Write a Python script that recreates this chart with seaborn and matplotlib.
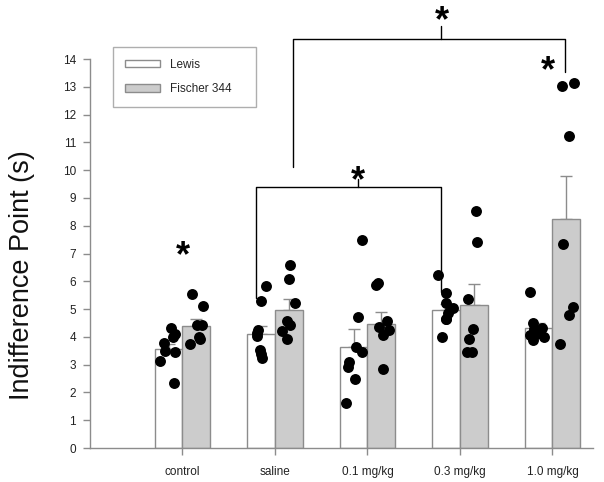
import numpy as np
import pandas as pd
import matplotlib
matplotlib.use("Agg")
import matplotlib.pyplot as plt
import seaborn as sns

# =============================
# DATA
# =============================
doses = ["control", "saline", "0.1 mg/kg", "0.3 mg/kg", "1.0 mg/kg"]
strains = ["Lewis", "Fischer 344"]

# bar heights = group means, upper error bar = SEM
lewis_mean = [3.55, 4.09, 3.64, 4.96, 4.33]
lewis_sem = [0.19, 0.31, 0.63, 0.24, 0.18]
f344_mean = [4.39, 4.96, 4.46, 5.13, 8.23]
f344_sem = [0.24, 0.39, 0.42, 0.76, 1.55]

# individual animals
lewis_control = [4.33, 4.09, 3.98, 3.77, 3.50, 3.45, 3.13, 2.35]
lewis_saline = [5.83, 5.30, 4.24, 4.15, 4.04, 3.53, 3.37, 3.23]
lewis_01 = [7.48, 4.72, 3.64, 3.44, 3.08, 2.92, 2.49, 1.62]
lewis_03 = [6.21, 5.59, 5.23, 5.05, 4.87, 4.64, 4.64, 4.00]
lewis_10 = [5.62, 4.49, 4.32, 4.28, 4.12, 4.06, 4.00, 3.90]

f344_control = [5.53, 5.11, 4.42, 4.42, 4.00, 3.91, 3.73]
f344_saline = [6.57, 6.07, 5.23, 4.58, 4.42, 4.22, 3.93]
f344_01 = [5.95, 5.86, 4.57, 4.36, 4.24, 4.06, 2.85]
f344_03 = [8.53, 7.40, 5.35, 4.28, 3.91, 3.46, 3.46]
f344_10 = [13.15, 13.02, 11.23, 7.33, 5.06, 4.78, 3.74]

lewis_points = [lewis_control, lewis_saline, lewis_01, lewis_03, lewis_10]
f344_points = [f344_control, f344_saline, f344_01, f344_03, f344_10]

# =============================
# TABLES
# =============================
df_bars = pd.DataFrame({
    "dose": doses * 2,
    "strain": [strains[0]] * 5 + [strains[1]] * 5,
    "mean": lewis_mean + f344_mean,
    "sem": lewis_sem + f344_sem,
})

rows = []
for strain, groups in zip(strains, [lewis_points, f344_points]):
    for dose, vals in zip(doses, groups):
        for v in vals:
            rows.append({"dose": dose, "strain": strain, "value": v})
df_pts = pd.DataFrame(rows)

# =============================
# PLOT
# =============================
sns.set_style("ticks")
plt.rcParams["font.family"] = ["Liberation Sans", "DejaVu Sans"]

grey = "#8c8c8c"
fig = plt.figure(figsize=(6.04, 4.82), dpi=100)
ax = fig.add_axes([0.149, 0.0705, 0.833, 0.807])

sns.barplot(data=df_bars, x="dose", y="mean", hue="strain", order=doses,
            hue_order=strains, palette={"Lewis": "white", "Fischer 344": "#cccccc"},
            width=0.6, errorbar=None, edgecolor=grey, linewidth=1, ax=ax, zorder=2)

# upper-only SEM bars
off = {"Lewis": -0.15, "Fischer 344": 0.15}
bx = df_bars["dose"].map({d: i for i, d in enumerate(doses)}) + df_bars["strain"].map(off)
ax.errorbar(bx, df_bars["mean"], yerr=[np.zeros(len(df_bars)), df_bars["sem"]],
            fmt="none", ecolor=grey, elinewidth=1, capsize=4, capthick=1, zorder=1)

# scattered individual points
rng = np.random.default_rng(7)
df_pts["x"] = (df_pts["dose"].map({d: i for i, d in enumerate(doses)})
               + df_pts["strain"].map(off)
               + rng.uniform(-0.09, 0.09, len(df_pts)))
sns.scatterplot(data=df_pts, x="x", y="value", color="black", s=62,
                edgecolor="black", linewidth=0, legend=False, ax=ax, zorder=4)

ax.set_xlim(-1.0, 4.44)
ax.set_ylim(0, 14)
ax.set_xticks(range(len(doses)))
ax.set_xticklabels(doses)
ax.set_yticks(range(0, 15))
ax.set_xlabel("")
ax.set_ylabel("Indifference Point (s)", fontsize=19.5, color="#111111")
ax.yaxis.set_label_coords(-0.11, 0.445)
ax.tick_params(axis="both", labelsize=8.5, colors=grey, labelcolor="#222222",
               direction="out", length=5, width=1)
ax.tick_params(axis="x", pad=8)
ax.tick_params(axis="y", pad=5)
for side in ["top", "right"]:
    ax.spines[side].set_visible(False)
for side in ["left", "bottom"]:
    ax.spines[side].set_color(grey)
    ax.spines[side].set_linewidth(1)

# legend
handles, labels = ax.get_legend_handles_labels()
leg = ax.legend(handles[:2], labels[:2], loc="upper left",
                bbox_to_anchor=(0.0457, 1.031, 0.284, 0.0), mode="expand",
                fontsize=8.5, frameon=True, fancybox=False, borderpad=1.0,
                handlelength=3.0, handleheight=0.55, handletextpad=0.8,
                labelspacing=1.05, borderaxespad=0)
leg.get_frame().set_edgecolor("#9a9a9a")
leg.get_frame().set_linewidth(1)

# significance brackets
star = dict(ha="center", va="center", fontsize=26, fontweight="bold",
            color="black", clip_on=False)
ax.text(0.0, 6.9, "*", **star)
ax.plot([0.8, 0.8, 2.8, 2.8], [5.4, 9.39, 9.39, 5.6], color="black", lw=1)
ax.plot([1.9, 1.9], [9.39, 9.7], color="black", lw=1)
ax.text(1.9, 9.6, "*", **star)
ax.plot([1.19, 1.19, 4.14, 4.14], [10.1, 14.71, 14.71, 13.52], color="black",
        lw=1, clip_on=False)
ax.plot([2.8, 2.8], [14.71, 15.18], color="black", lw=1, clip_on=False)
ax.text(2.8, 15.35, "*", **star)
ax.text(3.95, 13.55, "*", **star)

fig.savefig("out.png", dpi=100)
